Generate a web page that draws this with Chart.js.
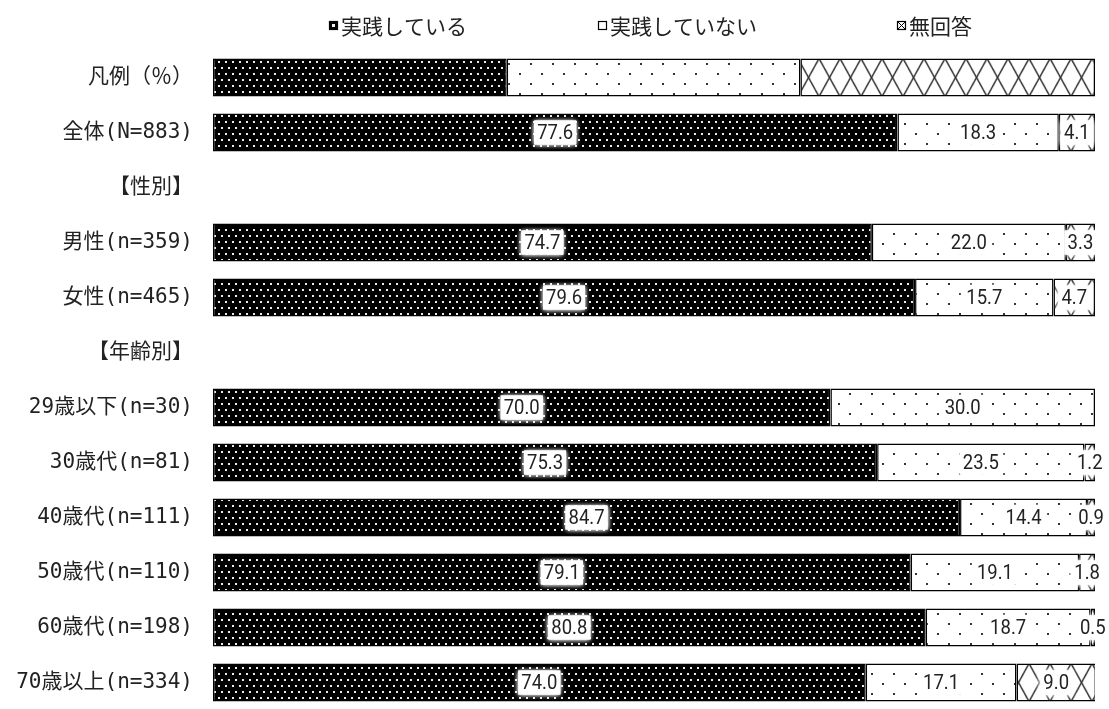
<!DOCTYPE html>
<html><head><meta charset="utf-8">
<script src="https://cdn.jsdelivr.net/npm/chart.js@4.4.1/dist/chart.umd.min.js"></script>
<style>
html,body{margin:0;padding:0;background:#fff;overflow:hidden;width:1109px;height:709px;}
#wrap{position:relative;width:1109px;height:709px;overflow:hidden;}
canvas{display:block;}
</style></head><body>
<div id="wrap"><canvas id="c" width="1109" height="710"></canvas></div>
<script>
// ---- data ----
const categories = ['凡例（％）','全体(N=883)','【性別】','男性(n=359)','女性(n=465)','【年齢別】','29歳以下(n=30)','30歳代(n=81)','40歳代(n=111)','50歳代(n=110)','60歳代(n=198)','70歳以上(n=334)'];
const seriesNames = ['実践している','実践していない','無回答'];
const practicing    = [33.3, 77.6, null, 74.7, 79.6, null, 70.0, 75.3, 84.7, 79.1, 80.8, 74.0];
const notPracticing = [33.3, 18.3, null, 22.0, 15.7, null, 30.0, 23.5, 14.4, 19.1, 18.7, 17.1];
const noAnswer      = [33.4,  4.1, null,  3.3,  4.7, null,  0.0,  1.2,  0.9,  1.8,  0.5,  9.0];
const legendRow = 0; // the "凡例" sample bar carries no value labels

// ---- patterns ----
function makeTile(w,h,draw){const c=document.createElement('canvas');c.width=w;c.height=h;const x=c.getContext('2d');draw(x,w,h);return c;}
const tmp=document.createElement('canvas').getContext('2d');
const patDark = tmp.createPattern(makeTile(7,12,(x,w,h)=>{
  x.fillStyle='#000';x.fillRect(0,0,w,h);
  x.fillStyle='#ececec';x.fillRect(1,1,2,2);x.fillRect(4,7,2,2);
}),'repeat');
const patLight = tmp.createPattern(makeTile(22,20,(x,w,h)=>{
  x.fillStyle='#fff';x.fillRect(0,0,w,h);
  x.fillStyle='#333';x.fillRect(2,3,2,2);x.fillRect(13,13,2,2);
}),'repeat');
const crossTile = makeTile(21,38,(x,w,h)=>{
  x.fillStyle='#fff';x.fillRect(0,0,w,h);
  x.strokeStyle='#333';x.lineWidth=1.5;
  x.beginPath();
  x.moveTo(0,0);x.lineTo(w,h);x.moveTo(w,0);x.lineTo(0,h);
  x.moveTo(-w/2,-h/2);x.lineTo(w/2,h/2);x.moveTo(w/2,h/2);x.lineTo(w*1.5,h*1.5);
  x.moveTo(w/2,-h/2);x.lineTo(-w/2,h/2);x.moveTo(w*1.5,h/2);x.lineTo(w/2,h*1.5);
  x.stroke();
});
function crossFor(c){
  const ys=c.chart.scales&&c.chart.scales.y;
  const p=tmp.createPattern(crossTile,'repeat');
  if(ys&&c.dataIndex!=null){const cy=ys.getPixelForValue(c.dataIndex);p.setTransform(new DOMMatrix().translate(0,cy-19));}
  return p;
}

// ---- plugins ----
const segLabels = {
  id:'segLabels',
  afterDatasetsDraw(chart){
    const ctx=chart.ctx;
    chart.data.datasets.forEach((ds,di)=>{
      const meta=chart.getDatasetMeta(di);
      meta.data.forEach((bar,i)=>{
        const v=ds.data[i];
        if(i===legendRow||v==null||v===0) return;
        const p=bar.getProps(['x','base','y'],true);
        const cx=(p.x+p.base)/2, cy=p.y;
        const txt=v.toFixed(1);
        const sx=0.88;
        ctx.save();
        ctx.font='21px Roboto';
        const w=ctx.measureText(txt).width*sx;
        ctx.shadowColor='#fff';ctx.shadowBlur=5;
        ctx.fillStyle='#fff';
        ctx.fillRect(cx-w/2-3,cy-12,w+6,24);
        ctx.fillRect(cx-w/2-3,cy-12,w+6,24);
        ctx.shadowBlur=0;
        ctx.translate(cx,cy+1);ctx.scale(sx,1);
        ctx.fillStyle='#222';ctx.textAlign='center';ctx.textBaseline='middle';
        ctx.fillText(txt,0,0);
        ctx.restore();
      });
    });
  }
};
const topLegend = {
  id:'topLegend',
  afterDraw(chart){
    const ctx=chart.ctx;
    const xs=[329,598,897], y=25, s=9;
    chart.data.datasets.forEach((ds,i)=>{
      const x0=xs[i], y0=y-4;
      ctx.save();
      ctx.fillStyle=i===0?'#000':'#fff';ctx.fillRect(x0,y0,s,s);
      ctx.strokeStyle='#000';ctx.lineWidth=1.2;
      if(i===0){ctx.fillStyle='#eee';ctx.fillRect(x0+3,y0+3,3,3);}
      if(i===2){ctx.beginPath();ctx.moveTo(x0+1,y0+1);ctx.lineTo(x0+s-1,y0+s-1);ctx.moveTo(x0+s-1,y0+1);ctx.lineTo(x0+1,y0+s-1);ctx.lineWidth=1;ctx.stroke();ctx.lineWidth=1.2;}
      ctx.strokeRect(x0+0.5,y0+0.5,s-1,s-1);
      ctx.fillStyle='#222';ctx.font='21px "Noto Sans CJK JP"';ctx.textBaseline='middle';ctx.textAlign='left';
      ctx.fillText(ds.label,x0+12,y+1);
      ctx.restore();
    });
  }
};

const seriesData=[practicing,notPracticing,noAnswer];
const fills=[patDark,patLight,crossFor];
new Chart(document.getElementById('c'),{
  type:'bar',
  data:{
    labels:categories,
    datasets:seriesNames.map((n,i)=>({
      label:n,data:seriesData[i],backgroundColor:fills[i],
      borderColor:'#000',borderWidth:1.5,borderSkipped:false,
      categoryPercentage:1,barPercentage:0.69
    }))
  },
  options:{
    indexAxis:'y',responsive:false,animation:false,devicePixelRatio:1,
    layout:{autoPadding:false,padding:{top:50,right:14,bottom:0,left:0}},
    plugins:{legend:{display:false},tooltip:{enabled:false}},
    scales:{
      x:{display:false,stacked:true,min:0,max:100},
      y:{stacked:true,grid:{display:false,drawTicks:false},border:{display:false},
         ticks:{autoSkip:false,padding:20,color:'#222',font:{size:21,family:'"DejaVu Sans Mono", "Noto Sans CJK JP"'}},
         afterFit(s){s.width=213;s.paddingTop=0;s.paddingBottom=0;}}
    }
  },
  plugins:[segLabels,topLegend]
});
</script></body></html>
